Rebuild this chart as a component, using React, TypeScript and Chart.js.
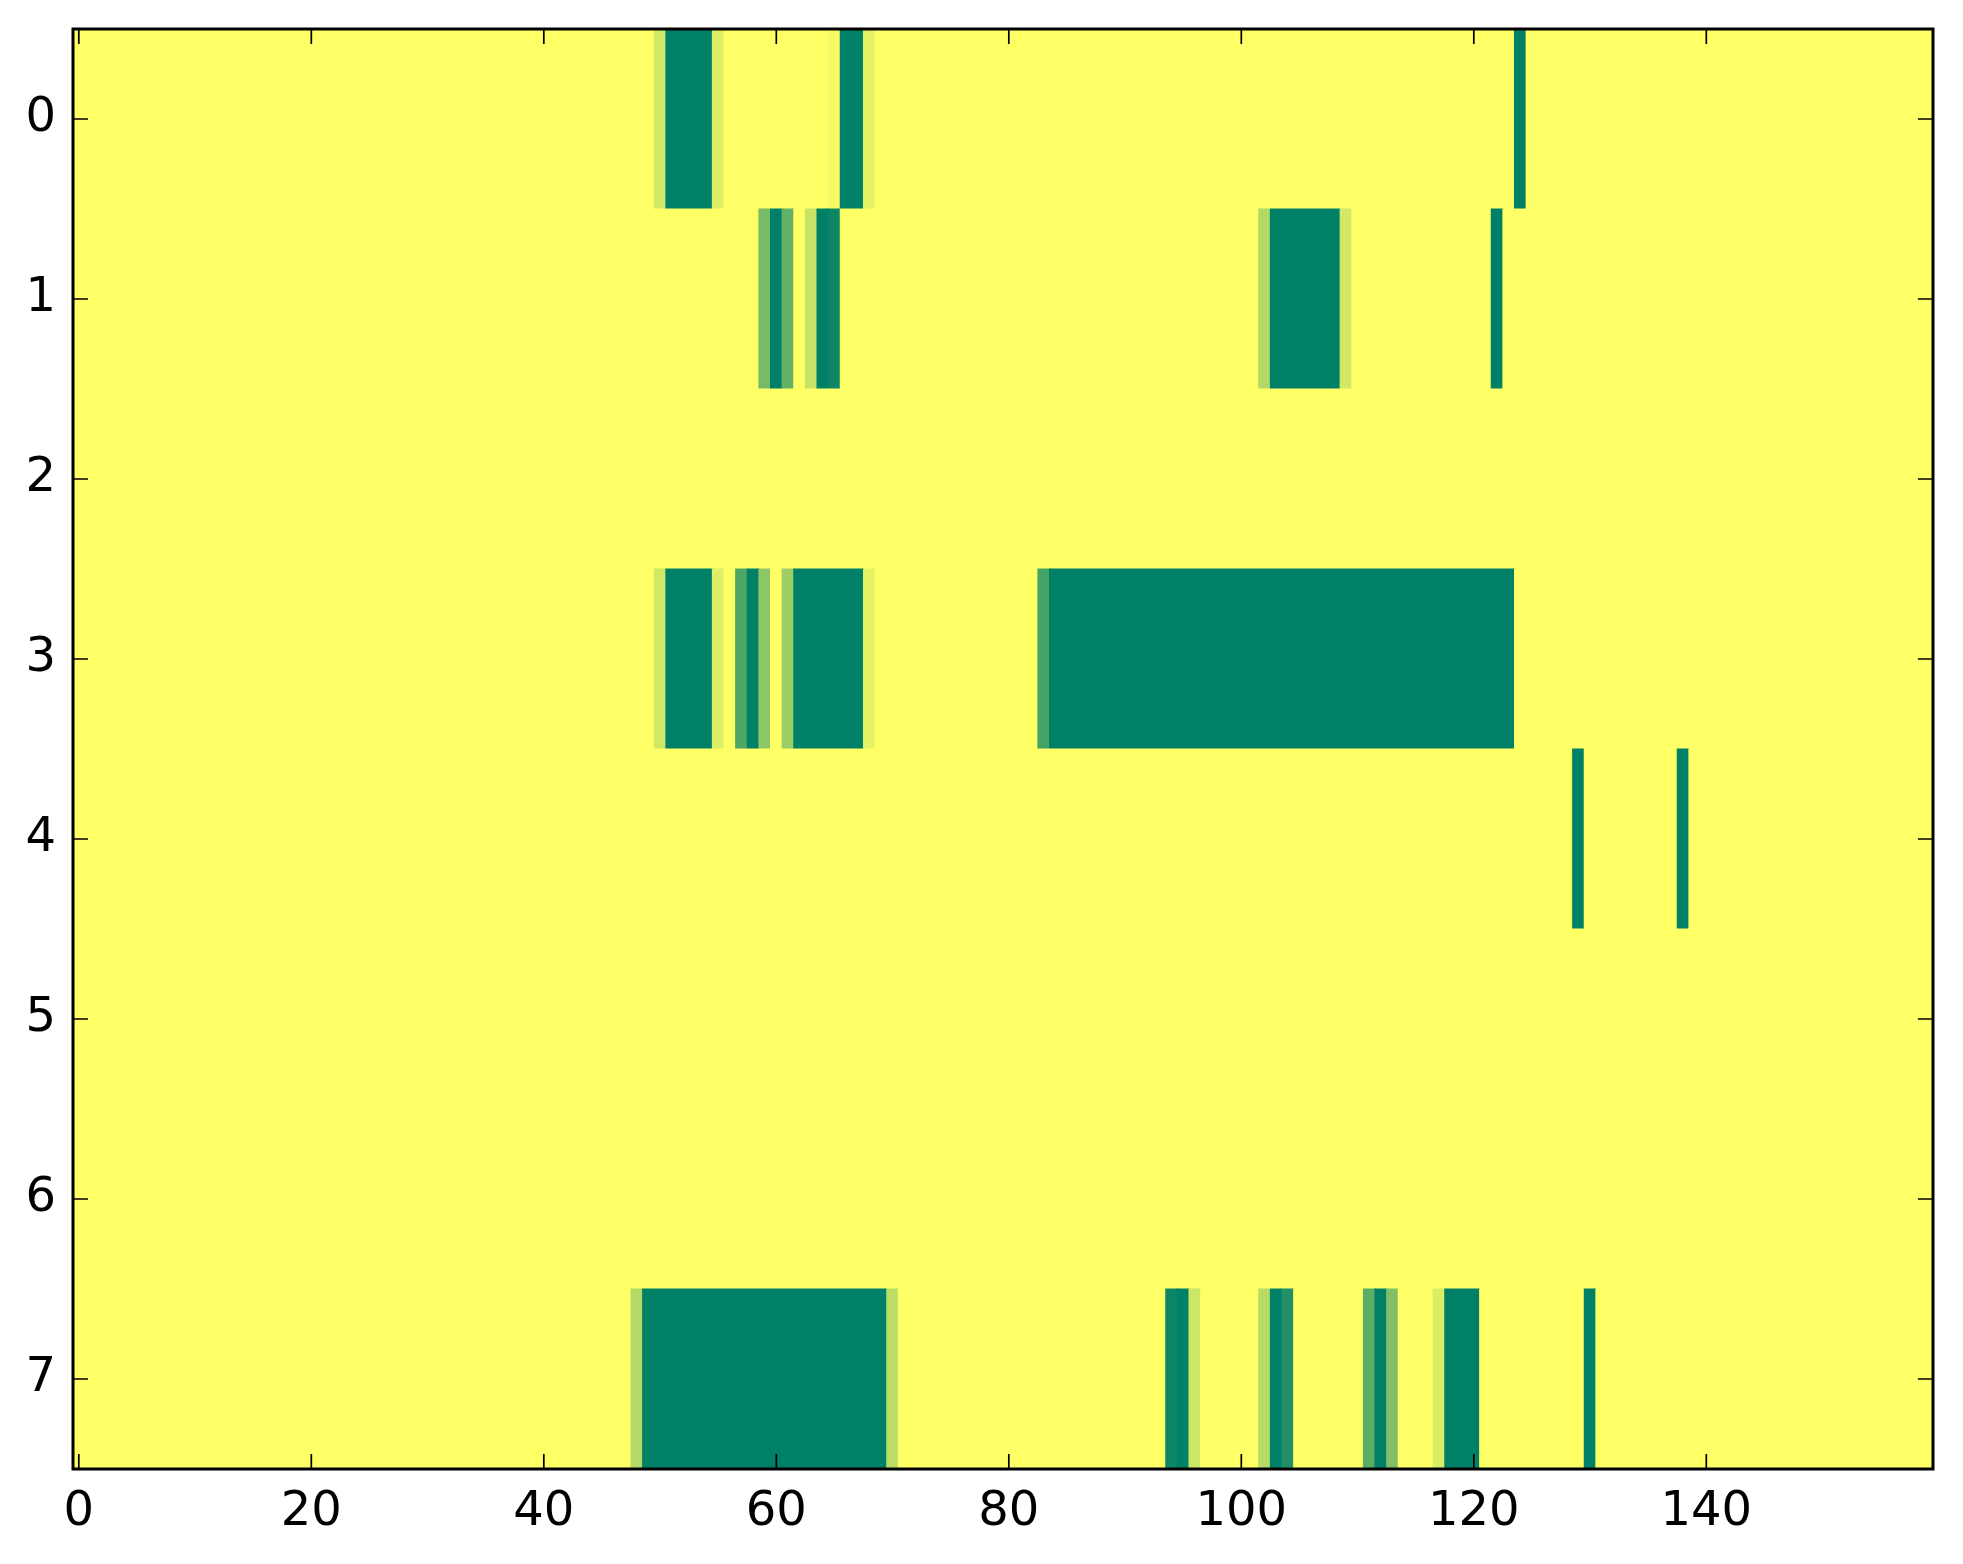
import React, { useEffect, useRef } from "react";
import { Chart, registerables } from "chart.js";

Chart.register(...registerables);

// Tick labels
const xTickValues = [0, 20, 40, 60, 80, 100, 120, 140];
const yTickValues = [0, 1, 2, 3, 4, 5, 6, 7];
const numCols = 160;
const numRows = 8;

// Each row: runs of [startCol, endCol, value] (inclusive), value in 0..1
const row0Runs: [number, number, number][] = [
  [0, 49, 1], [50, 50, 0.82], [51, 54, 0], [55, 55, 0.87], [56, 64, 1],
  [65, 65, 0.96], [66, 67, 0], [68, 68, 0.9], [69, 123, 1], [124, 124, 0],
  [125, 159, 1],
];
const row1Runs: [number, number, number][] = [
  [0, 58, 1], [59, 59, 0.47], [60, 60, 0], [61, 61, 0.39], [62, 62, 1],
  [63, 63, 0.78], [64, 64, 0], [65, 65, 0.05], [66, 101, 1], [102, 102, 0.7],
  [103, 108, 0], [109, 109, 0.82], [110, 121, 1], [122, 122, 0], [123, 159, 1],
];
const row2Runs: [number, number, number][] = [[0, 159, 1]];
const row3Runs: [number, number, number][] = [
  [0, 49, 1], [50, 50, 0.82], [51, 54, 0], [55, 55, 0.87], [56, 56, 1],
  [57, 57, 0.31], [58, 58, 0], [59, 59, 0.55], [60, 60, 1], [61, 61, 0.62],
  [62, 67, 0], [68, 68, 0.9], [69, 82, 1], [83, 83, 0.27], [84, 123, 0],
  [124, 159, 1],
];
const row4Runs: [number, number, number][] = [
  [0, 128, 1], [129, 129, 0], [130, 137, 1], [138, 138, 0], [139, 159, 1],
];
const row5Runs: [number, number, number][] = [[0, 159, 1]];
const row6Runs: [number, number, number][] = [[0, 159, 1]];
const row7Runs: [number, number, number][] = [
  [0, 47, 1], [48, 48, 0.7], [49, 69, 0], [70, 70, 0.74], [71, 93, 1],
  [94, 94, 0.05], [95, 95, 0], [96, 96, 0.8], [97, 101, 1], [102, 102, 0.71],
  [103, 103, 0], [104, 104, 0.13], [105, 110, 1], [111, 111, 0.36], [112, 112, 0],
  [113, 113, 0.5], [114, 116, 1], [117, 117, 0.86], [118, 120, 0], [121, 129, 1],
  [130, 130, 0], [131, 159, 1],
];

const allRows = [row0Runs, row1Runs, row2Runs, row3Runs, row4Runs, row5Runs, row6Runs, row7Runs];

// matplotlib "summer" colormap
function summer(v: number): string {
  const r = Math.round(255 * v);
  const g = Math.round(255 * (0.5 + 0.5 * v));
  return `rgb(${r},${g},102)`;
}

const framePlugin = {
  id: "mplFrame",
  afterDraw(chart: any) {
    const { ctx, chartArea, scales } = chart;
    const { left, top, right, bottom } = chartArea;
    const xs = scales.x;
    const ys = scales.y;
    const tickLen = 15;
    ctx.save();
    ctx.strokeStyle = "#000";
    ctx.lineWidth = 1.7;
    ctx.beginPath();
    xs.ticks.forEach((t: any) => {
      const px = xs.getPixelForValue(t.value);
      ctx.moveTo(px, bottom);
      ctx.lineTo(px, bottom - tickLen);
      ctx.moveTo(px, top);
      ctx.lineTo(px, top + tickLen);
    });
    ys.ticks.forEach((t: any) => {
      const py = ys.getPixelForValue(t.value);
      ctx.moveTo(left, py);
      ctx.lineTo(left + tickLen, py);
      ctx.moveTo(right, py);
      ctx.lineTo(right - tickLen, py);
    });
    ctx.stroke();
    ctx.lineWidth = 3;
    ctx.strokeRect(left, top, right - left, bottom - top);
    ctx.restore();
  },
};

export default function App() {
  const canvasRef = useRef<HTMLCanvasElement | null>(null);

  useEffect(() => {
    if (!canvasRef.current) return;
    const points: { x: [number, number]; y: number; v: number }[] = [];
    allRows.forEach((runs, r) => {
      runs.forEach(([s, e, v]) => {
        points.push({ x: [s - 0.5, e + 0.5], y: r, v });
      });
    });
    const font = { family: "'DejaVu Sans', sans-serif", size: 48 };
    const chart = new Chart(canvasRef.current, {
      type: "bar",
      data: {
        datasets: [
          {
            data: points as any,
            backgroundColor: points.map((p) => summer(p.v)),
            borderWidth: 0,
            barPercentage: 1,
            categoryPercentage: 1,
            inflateAmount: 0.5,
          } as any,
        ],
      },
      options: {
        indexAxis: "y",
        animation: false,
        responsive: false,
        devicePixelRatio: 1,
        layout: { padding: { left: 0, top: 29, right: 30, bottom: 0 } },
        plugins: { legend: { display: false }, tooltip: { enabled: false } },
        scales: {
          x: {
            type: "linear",
            position: "bottom",
            offset: false,
            min: -0.5,
            max: numCols - 0.5,
            grid: { display: false, drawTicks: false, offset: false },
            border: { display: false },
            ticks: { color: "#000", font, padding: 15, maxRotation: 0, autoSkip: false },
            afterBuildTicks: (scale: any) => {
              scale.ticks = xTickValues.map((v) => ({ value: v }));
            },
            afterFit: (scale: any) => {
              scale.height = 95;
              scale.paddingLeft = 0;
              scale.paddingRight = 0;
            },
          },
          y: {
            type: "linear",
            position: "left",
            reverse: true,
            offset: false,
            min: -0.5,
            max: numRows - 0.5,
            grid: { display: false, drawTicks: false, offset: false },
            border: { display: false },
            ticks: { color: "#000", font, padding: 17, autoSkip: false },
            afterBuildTicks: (scale: any) => {
              scale.ticks = yTickValues.map((v) => ({ value: v }));
            },
            afterFit: (scale: any) => {
              scale.width = 73;
              scale.paddingTop = 0;
              scale.paddingBottom = 0;
            },
          },
        },
      } as any,
      plugins: [framePlugin],
    });
    return () => chart.destroy();
  }, []);

  return (
    <div style={{ position: "absolute", left: 0, top: 0, width: 1963, height: 1564, background: "#fff" }}>
      <canvas ref={canvasRef} width={1963} height={1564} />
    </div>
  );
}
